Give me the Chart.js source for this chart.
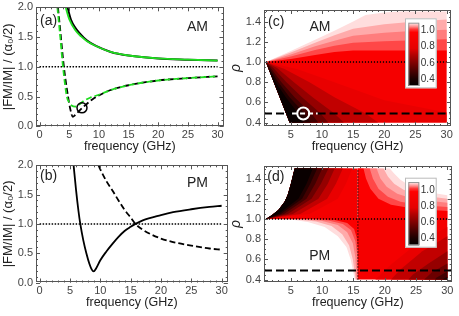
<!DOCTYPE html>
<html>
<head>
<meta charset="utf-8">
<script src="https://cdn.jsdelivr.net/npm/chart.js@4.4.0/dist/chart.umd.min.js"></script>
<style>
  html, body { margin: 0; padding: 0; background: #fff; }
  #wrap { position: relative; width: 459px; height: 316px; overflow: hidden; }
  canvas { position: absolute; }
</style>
</head>
<body>
<div id="wrap">
  <canvas id="pa" width="230" height="158" style="left:0;top:0"></canvas>
  <canvas id="pb" width="230" height="158" style="left:0;top:156px"></canvas>
  <canvas id="pc" width="230" height="158" style="left:229px;top:0"></canvas>
  <canvas id="pd" width="230" height="158" style="left:229px;top:156px"></canvas>
</div>
<script>
// ── tick labels ──────────────────────────────────────────────────────────
const X_TICKS_AB = [0, 5, 10, 15, 20, 25, 30];
const Y_TICKS_AB = [0, 0.5, 1, 1.5, 2];
const X_TICKS_CD = [5, 10, 15, 20, 25, 30];
const Y_TICKS_CD = [0.4, 0.6, 0.8, 1.0, 1.2, 1.4];
const CBAR_TICKS = [0.4, 0.6, 0.8, 1.0];
const CBAR_RANGE = [0.31, 1.10];

// ── (a) AM : |FM/IM| vs frequency ────────────────────────────────────────
const A_SOLID_F   = [4.7, 5.3, 6, 6.7, 8, 9.5, 12, 15, 20, 25, 30];
const A_SOLID     = [2.0, 1.79, 1.66, 1.57, 1.44, 1.35, 1.25, 1.19, 1.14, 1.12, 1.105];
const A_SOLID_G_F = [4.4, 5, 6, 7, 8, 9.5, 12, 15, 20, 25, 30];
const A_SOLID_G   = [2.0, 1.80, 1.62, 1.51, 1.43, 1.35, 1.25, 1.19, 1.14, 1.12, 1.105];
const A_DASH_F    = [3.1, 3.5, 4.1, 4.8, 5.2, 5.6, 6.0, 6.6, 7.2, 8, 9, 10, 12, 15, 20, 25, 30];
const A_DASH      = [2.0, 1.6, 1.0, 0.5, 0.28, 0.16, 0.19, 0.25, 0.31, 0.38, 0.46, 0.52, 0.61, 0.69, 0.77, 0.81, 0.84];
const A_DASH_G_F  = [3.0, 3.4, 3.95, 4.6, 5.0, 5.4, 6.0, 6.6, 7.5, 8.5, 10, 12, 15, 20, 25, 30];
const A_DASH_G    = [2.0, 1.6, 1.0, 0.5, 0.40, 0.35, 0.33, 0.36, 0.43, 0.48, 0.53, 0.61, 0.69, 0.77, 0.81, 0.84];
const A_MARK      = [7.15, 0.31];

// ── (b) PM ───────────────────────────────────────────────────────────────
const B_SOLID_F = [5.6, 6.0, 6.4, 6.7, 7.2, 7.7, 8.2, 8.6, 8.9, 9.3, 10, 11, 12, 13, 14, 15, 15.8, 17, 20, 22, 25, 28, 30];
const B_SOLID   = [2.0, 1.58, 1.22, 1.0, 0.72, 0.5, 0.32, 0.22, 0.19, 0.24, 0.38, 0.53, 0.66, 0.78, 0.88, 0.95, 1.0, 1.06, 1.15, 1.2, 1.25, 1.29, 1.31];
const B_DASH_F  = [9.7, 10, 11, 12, 13, 14, 15, 15.8, 17, 20, 22, 25, 28, 30];
const B_DASH    = [2.0, 1.93, 1.73, 1.57, 1.40, 1.24, 1.11, 1.0, 0.9, 0.75, 0.69, 0.63, 0.58, 0.56];

// ── density maps: domain limits ──────────────────────────────────────────
const F_LO = 1, F_HI = 30, RHO_LO = 0.4, RHO_HI = 1.5, F_PM = 15.7;
const RHO_DASH = 0.49;

// (c) AM, ρ > 1 : outer (white) edge and band edges
const C_UP_EDGE = [[1,1],[5,1.11],[8.9,1.22],[12,1.31],[15,1.40],[17,1.465],[20,1.49],[22.5,1.5]];
const C_UP_B1 = [[1,1],[5,1.095],[8.9,1.19],[12,1.265],[15,1.33],[20,1.375],[25,1.40],[30,1.42]];
const C_UP_B2 = [[1,1],[5,1.075],[8.9,1.155],[12,1.21],[15,1.26],[20,1.29],[25,1.31],[30,1.32]];
const C_UP_B3 = [[1,1],[5,1.055],[8.9,1.12],[12,1.16],[15,1.19],[20,1.205],[25,1.215],[30,1.225]];
const C_UP_B4 = [[1,1],[5,1.03],[8.9,1.07],[12,1.1],[15,1.115],[20,1.115],[25,1.115],[30,1.115]];
const C_UP_LEVELS = [1.09, 1.065, 1.045, 1.025, 0.95];

// (c) AM, ρ < 1 : left edge (1,1)-(4.8,0.4) and darkening contours
const C_LOW_FOOT = 4.8;
const C_LOW_K1 = [[1,1],[6,0.93],[12,0.8],[20,0.62],[30,0.5]];
const C_LOW_K2 = [[1,1],[4,0.93],[8,0.8],[12,0.65],[17,0.49],[19,0.4]];
const C_LOW_K3 = [[1,1],[2.8,0.94],[5.5,0.8],[8.5,0.65],[12,0.49],[13.5,0.4]];
const C_LOW_K4 = [[1,1],[2.2,0.94],[4.3,0.8],[6.8,0.65],[9.8,0.49],[11,0.4]];
const C_LOW_K5 = [[1,1],[1.8,0.94],[3.5,0.8],[5.6,0.65],[8.3,0.49],[9.4,0.4]];
const C_LOW_K6 = [[1,1],[1.55,0.94],[3.0,0.8],[4.8,0.65],[7.2,0.49],[8.2,0.4]];
const C_LOW_K7 = [[1,1],[1.4,0.94],[2.6,0.8],[4.2,0.65],[6.2,0.49],[7.0,0.4]];
const C_LOW_LEVELS = [0.9, 0.8, 0.72, 0.64, 0.56, 0.48, 0.41, 0.34];
const C_MARK = [7.0, 0.49];
const C_WHITE_DASH = [5.2, 9.3];

// (d) PM, ρ > 1, f < F_PM : lobe edge and darkening contours
const D_LOBE_EDGE = [[1,1],[2,1.04],[3,1.09],[4,1.17],[4.5,1.24],[5,1.35],[5.6,1.5]];
const D_LOBE_K1 = [[1,1],[8.0,1.05],[12.5,1.2],[13.8,1.35],[14.8,1.5]];
const D_LOBE_K2 = [[1,1],[6.5,1.05],[10.8,1.2],[12.2,1.35],[13.3,1.5]];
const D_LOBE_K3 = [[1,1],[5.3,1.05],[9.4,1.2],[10.9,1.35],[12.0,1.5]];
const D_LOBE_K4 = [[1,1],[4.5,1.05],[8.3,1.2],[9.8,1.35],[11.0,1.5]];
const D_LOBE_K5 = [[1,1],[3.9,1.05],[7.5,1.2],[8.9,1.35],[10.0,1.5]];
const D_LOBE_K6 = [[1,1],[3.4,1.05],[6.8,1.2],[8.1,1.35],[9.2,1.5]];
const D_LOBE_K7 = [[1,1],[3.0,1.05],[6.2,1.2],[7.5,1.35],[8.5,1.5]];
const D_LOBE_LEVELS = [0.9, 0.8, 0.72, 0.64, 0.56, 0.48, 0.41, 0.34];

// (d) PM, ρ > 1, f > F_PM : white edge and band edges
const D_UR_EDGE = [[20.8,1.5],[21.5,1.45],[22.5,1.39],[24,1.33],[26,1.285],[28,1.255],[30,1.235]];
const D_UR_B1 = [[19.8,1.5],[20.5,1.42],[21.5,1.35],[23,1.29],[25,1.25],[27.5,1.22],[30,1.2]];
const D_UR_B2 = [[18.7,1.5],[19.3,1.4],[20.3,1.32],[22,1.25],[24,1.21],[27,1.18],[30,1.16]];
const D_UR_B3 = [[17.6,1.5],[18.1,1.4],[19,1.3],[20.5,1.22],[22.5,1.17],[26,1.135],[30,1.12]];
const D_UR_B4 = [[16.6,1.5],[17,1.4],[17.7,1.3],[19,1.2],[21,1.14],[25,1.1],[30,1.08]];
const D_UR_LEVELS = [1.09, 1.065, 1.045, 1.025, 0.95];

// (d) PM, ρ < 1, f < F_PM : white edge and band edges
const D_LL_EDGE = [[1,1],[5,0.995],[7.7,0.97],[10.4,0.92],[12.5,0.83],[13.9,0.72],[14.6,0.59],[15.2,0.4]];
const D_LL_B1 = [[1,1],[6,0.996],[9,0.975],[11.5,0.93],[13.2,0.85],[14.3,0.74],[14.9,0.6],[15.35,0.4]];
const D_LL_B2 = [[1,1],[7,0.997],[10,0.98],[12.5,0.94],[14,0.87],[14.9,0.76],[15.3,0.62],[15.5,0.4]];
const D_LL_B3 = [[1,1],[8,0.998],[11,0.985],[13.3,0.95],[14.6,0.89],[15.3,0.78],[15.6,0.64],[15.65,0.4]];
const D_LL_B4 = [[1,1],[9,0.999],[12,0.99],[14,0.96],[15.1,0.9],[15.5,0.82],[15.7,0.7]];
const D_LL_LEVELS = [1.09, 1.065, 1.045, 1.025, 0.95];

// (d) PM, ρ < 1, f > F_PM : darkening towards (30, 0.4)
const D_LR_K1 = [[30,0.92],[25,0.75],[21,0.55],[18.5,0.4]];
const D_LR_K2 = [[30,0.83],[26,0.68],[22.5,0.5],[21,0.4]];
const D_LR_K3 = [[30,0.68],[27,0.56],[24.5,0.45],[23.8,0.4]];
const D_LR_K4 = [[30,0.56],[27.5,0.47],[26.3,0.4]];
const D_LR_K5 = [[30,0.48],[28.3,0.42],[28,0.4]];
const D_LR_K6 = [[30,0.43],[29.2,0.4]];
const D_LR_LEVELS = [0.9, 0.8, 0.72, 0.64, 0.56, 0.48, 0.41];

// ── styling ──────────────────────────────────────────────────────────────
const FONT = 'Liberation Sans, Arial, sans-serif';
const TICK_COLOR = '#444';
const TEXT_COLOR = '#222';
const FRAME_COLOR = '#555';
const GREEN = '#1fdc1f';
const DASH_MAP = [8, 4];
const CMAP_V = [0.31, 0.40, 0.50, 0.60, 0.70, 0.78, 0.98, 1.02, 1.05, 1.08, 1.10];
const CMAP_C = ['#000000','#1c0000','#4c0000','#800000','#b40000','#e60000','#ff0000','#ff3a3a','#ff8a8a','#ffcaca','#fff0f0'];

function hexRgb(h) { return [1, 3, 5].map(i => parseInt(h.slice(i, i + 2), 16)); }
function colorAt(v) {
  if (v <= CMAP_V[0]) return CMAP_C[0];
  for (let i = 1; i < CMAP_V.length; i++) {
    if (v <= CMAP_V[i]) {
      const t = (v - CMAP_V[i - 1]) / (CMAP_V[i] - CMAP_V[i - 1]);
      const a = hexRgb(CMAP_C[i - 1]), b = hexRgb(CMAP_C[i]);
      return `rgb(${a.map((c, k) => Math.round(c + (b[k] - c) * t)).join(',')})`;
    }
  }
  return CMAP_C[CMAP_C.length - 1];
}

const pts = arr => arr.map(([x, y]) => ({ x, y }));
function band(points, level) {
  return { data: pts(points), showLine: true, fill: 'shape', backgroundColor: colorAt(level),
    borderColor: 'rgba(0,0,0,0)', borderWidth: 0, pointRadius: 0, tension: 0 };
}
function curve(fs, vs, color, dash, width) {
  return { data: fs.map((x, i) => ({ x, y: vs[i] })), showLine: true, fill: false,
    borderColor: color, borderWidth: width, borderDash: dash, pointRadius: 0,
    tension: 0.4, cubicInterpolationMode: 'monotone' };
}
function rule(points, color, dash, width) {
  return { data: pts(points), showLine: true, fill: false, borderColor: color,
    borderWidth: width, borderDash: dash, pointRadius: 0, tension: 0 };
}
function ring(p, color, r, w) {
  return { data: [{ x: p[0], y: p[1] }], showLine: false, pointRadius: r, pointBorderWidth: w,
    pointBorderColor: color, pointBackgroundColor: 'rgba(0,0,0,0)', pointStyle: 'circle' };
}
function steps(from, to, step) {
  const out = [], n = Math.round((to - from) / step);
  for (let i = 0; i <= n; i++) out.push(+(from + i * step).toFixed(4));
  return out;
}

function drawColorbar(ctx, cb) {
  const [bx, by, bw, bh] = cb.box, [sx, sy, sw, sh] = cb.strip;
  const [lo, hi] = CBAR_RANGE;
  ctx.fillStyle = '#fff'; ctx.fillRect(bx, by, bw, bh);
  ctx.strokeStyle = '#bbb'; ctx.lineWidth = 1; ctx.strokeRect(bx + 0.5, by + 0.5, bw - 1, bh - 1);
  const g = ctx.createLinearGradient(0, sy + sh, 0, sy);
  CMAP_V.forEach((v, i) => g.addColorStop((v - lo) / (hi - lo), CMAP_C[i]));
  ctx.fillStyle = g; ctx.fillRect(sx, sy, sw, sh);
  ctx.strokeStyle = '#999'; ctx.strokeRect(sx + 0.5, sy + 0.5, sw - 1, sh - 1);
  ctx.fillStyle = '#333'; ctx.font = `10px ${FONT}`;
  ctx.textAlign = 'left'; ctx.textBaseline = 'middle';
  CBAR_TICKS.forEach(v => {
    const y = sy + sh - (v - lo) / (hi - lo) * sh;
    ctx.fillText(v.toFixed(1), sx + sw + 1.5, y);
  });
}

function decor(p) {
  return {
    id: 'decor',
    afterDatasetsDraw(chart) {
      const { ctx, chartArea: a } = chart;
      const sx = chart.scales.x, sy = chart.scales.y;
      ctx.save();
      ctx.strokeStyle = FRAME_COLOR; ctx.lineWidth = 1;
      ctx.beginPath();
      const xt = (vals, len) => vals.forEach(v => {
        const q = Math.round(sx.getPixelForValue(v)) + 0.5;
        ctx.moveTo(q, a.bottom); ctx.lineTo(q, a.bottom - len);
        ctx.moveTo(q, a.top); ctx.lineTo(q, a.top + len);
      });
      const yt = (vals, len) => vals.forEach(v => {
        const q = Math.round(sy.getPixelForValue(v)) + 0.5;
        ctx.moveTo(a.left, q); ctx.lineTo(a.left + len, q);
        ctx.moveTo(a.right, q); ctx.lineTo(a.right - len, q);
      });
      xt(p.xMinor, 2); xt(p.xTicks, 4); yt(p.yMinor, 2); yt(p.yTicks, 4);
      ctx.stroke();
      ctx.strokeRect(Math.round(a.left) + 0.5, Math.round(a.top) + 0.5,
        Math.round(a.right - a.left) - 1, Math.round(a.bottom - a.top) - 1);
      if (p.colorbar) drawColorbar(ctx, p.colorbar);
      ctx.fillStyle = TEXT_COLOR; ctx.textBaseline = 'middle';
      p.texts.forEach(t => {
        ctx.font = `14px ${FONT}`; ctx.textAlign = t[3];
        ctx.fillText(t[0], t[1], t[2]);
      });
      ctx.restore();
    }
  };
}

function makePanel(id, p) {
  const n = p.datasets.length;
  return new Chart(document.getElementById(id), {
    type: 'scatter',
    data: { datasets: p.datasets.map((d, i) => ({ ...d, order: n - i })) },
    options: {
      responsive: false, animation: false, events: [],
      layout: { padding: { left: 0, top: p.area[1], right: 230 - p.area[2], bottom: 0 } },
      plugins: { legend: { display: false }, tooltip: { enabled: false }, colors: { enabled: false } },
      scales: {
        x: {
          type: 'linear', min: p.xRange[0], max: p.xRange[1],
          afterBuildTicks: s => { s.ticks = p.xTicks.map(value => ({ value })); },
          afterFit: s => { s.height = 158 - p.area[3]; s.paddingLeft = 0; s.paddingRight = 0; },
          grid: { display: false, drawTicks: false, tickLength: 0 }, border: { display: false },
          ticks: { color: TICK_COLOR, font: { family: FONT, size: 11 }, padding: 2,
            maxRotation: 0, minRotation: 0, autoSkip: false, callback: v => String(v) },
          title: { display: true, text: 'frequency (GHz)', color: TEXT_COLOR,
            font: { family: FONT, size: 12.5 }, padding: { top: 0, bottom: 3.5 } }
        },
        y: {
          type: 'linear', min: p.yRange[0], max: p.yRange[1],
          afterBuildTicks: s => { s.ticks = p.yTicks.map(value => ({ value })); },
          afterFit: s => { s.width = p.area[0]; s.paddingTop = 0; s.paddingBottom = 0; },
          grid: { display: false, drawTicks: false, tickLength: 0 }, border: { display: false },
          ticks: { color: TICK_COLOR, font: { family: FONT, size: 11 }, padding: 3,
            autoSkip: false, callback: v => v.toFixed(1) },
          title: { display: true, text: p.yTitle, color: TEXT_COLOR,
            font: { family: FONT, size: p.yTitleSize, style: p.yItalic ? 'italic' : 'normal' },
            padding: { top: p.yTitlePad, bottom: 0 } }
        }
      }
    },
    plugins: [decor(p)]
  });
}

const Y_TITLE_AB = '|FM/IM| / (α\u2080/2)';

// ── (a) ──
makePanel('pa', {
  area: [36, 7.3, 227.7, 126.3], xRange: [-0.6, 31], yRange: [0, 2],
  xTicks: X_TICKS_AB, yTicks: Y_TICKS_AB, xMinor: steps(0, 30, 1), yMinor: steps(0, 2, 0.1),
  yTitle: Y_TITLE_AB, yTitleSize: 13, yTitlePad: 0.5,
  texts: [['(a)', 40, 21.5, 'left'], ['AM', 197.5, 27.5, 'center']],
  datasets: [
    rule([[0, 1], [30, 1]], '#000', [1.5, 1.5], 1.5),
    curve(A_SOLID_F, A_SOLID, '#000', [], 2),
    curve(A_SOLID_G_F, A_SOLID_G, GREEN, [], 1.8),
    curve(A_DASH_F, A_DASH, '#000', [6, 3], 1.8),
    curve(A_DASH_G_F, A_DASH_G, GREEN, [6, 3], 1.8),
    ring(A_MARK, '#000', 5, 1.5)
  ]
});

// ── (b) ──
makePanel('pb', {
  area: [36, 9.3, 227.7, 126.5], xRange: [-0.6, 31], yRange: [0, 2],
  xTicks: X_TICKS_AB, yTicks: Y_TICKS_AB, xMinor: steps(0, 30, 1), yMinor: steps(0, 2, 0.1),
  yTitle: Y_TITLE_AB, yTitleSize: 13, yTitlePad: 0.5,
  texts: [['(b)', 40, 20, 'left'], ['PM', 197.5, 27.5, 'center']],
  datasets: [
    rule([[0, 1], [30, 1]], '#000', [1.5, 1.5], 1.5),
    curve(B_SOLID_F, B_SOLID, '#000', [], 1.8),
    curve(B_DASH_F, B_DASH, '#000', [6, 3], 1.8)
  ]
});

// ── (c) ──
const cLowPoly = k => {
  const last = k[k.length - 1];
  return k.concat(last[1] > RHO_LO ? [[F_HI, RHO_LO]] : [], [[C_LOW_FOOT, RHO_LO]]);
};
makePanel('pc', {
  area: [35, 10, 222.7, 126], xRange: [0.7, 30.7], yRange: [0.366, 1.515],
  xTicks: X_TICKS_CD, yTicks: Y_TICKS_CD, xMinor: steps(1, 30, 1), yMinor: steps(0.4, 1.5, 0.05),
  yTitle: 'ρ', yTitleSize: 14, yItalic: true, yTitlePad: -1,
  texts: [['(c)', 39, 22, 'left'], ['AM', 91, 27, 'center']],
  colorbar: { box: [176, 18.3, 31.7, 70], strip: [179.3, 22.7, 11, 63.3] },
  datasets: [
    band(C_UP_EDGE.concat([[F_HI, RHO_HI], [F_HI, 1]]), C_UP_LEVELS[0]),
    ...[C_UP_B1, C_UP_B2, C_UP_B3, C_UP_B4].map((b, i) => band(b.concat([[F_HI, 1]]), C_UP_LEVELS[i + 1])),
    band([[F_LO, 1], [F_HI, 1], [F_HI, RHO_LO], [C_LOW_FOOT, RHO_LO]], C_LOW_LEVELS[0]),
    ...[C_LOW_K1, C_LOW_K2, C_LOW_K3, C_LOW_K4, C_LOW_K5, C_LOW_K6, C_LOW_K7]
      .map((k, i) => band(cLowPoly(k), C_LOW_LEVELS[i + 1])),
    rule([[F_LO, 1], [F_HI, 1]], '#000', [1.2, 1.8], 1.3),
    rule([[0.7, RHO_DASH], [C_WHITE_DASH[0], RHO_DASH]], '#000', DASH_MAP, 2),
    rule([[C_WHITE_DASH[1], RHO_DASH], [30.7, RHO_DASH]], '#000', DASH_MAP, 2),
    rule([[C_WHITE_DASH[0], RHO_DASH], [C_WHITE_DASH[1], RHO_DASH]], '#fff', [5, 3], 2),
    ring(C_MARK, '#fff', 6, 2)
  ]
});

// ── (d) ──
const lobeRev = D_LOBE_EDGE.slice().reverse();
makePanel('pd', {
  area: [35, 10, 222.7, 126], xRange: [0.7, 30.7], yRange: [0.376, 1.525],
  xTicks: X_TICKS_CD, yTicks: Y_TICKS_CD, xMinor: steps(1, 30, 1), yMinor: steps(0.4, 1.5, 0.05),
  yTitle: 'ρ', yTitleSize: 14, yItalic: true, yTitlePad: -1,
  texts: [['(d)', 38.3, 20.7, 'left'], ['PM', 90.7, 100, 'center']],
  colorbar: { box: [176, 21.7, 31.7, 70], strip: [179.3, 26, 11, 63.3] },
  datasets: [
    band(D_LOBE_EDGE.concat([[F_PM, RHO_HI], [F_PM, 1]]), D_LOBE_LEVELS[0]),
    ...[D_LOBE_K1, D_LOBE_K2, D_LOBE_K3, D_LOBE_K4, D_LOBE_K5, D_LOBE_K6, D_LOBE_K7]
      .map((k, i) => band(k.concat(lobeRev), D_LOBE_LEVELS[i + 1])),
    ...[D_UR_EDGE, D_UR_B1, D_UR_B2, D_UR_B3, D_UR_B4]
      .map((b, i) => band([[F_PM, 1], [F_PM, RHO_HI]].concat(b, [[F_HI, 1]]), D_UR_LEVELS[i])),
    ...[D_LL_EDGE, D_LL_B1, D_LL_B2, D_LL_B3, D_LL_B4]
      .map((b, i) => band(b.concat([[F_PM, RHO_LO], [F_PM, 1]]), D_LL_LEVELS[i])),
    band([[F_PM, 1], [F_HI, 1], [F_HI, RHO_LO], [F_PM, RHO_LO]], D_LR_LEVELS[0]),
    ...[D_LR_K1, D_LR_K2, D_LR_K3, D_LR_K4, D_LR_K5, D_LR_K6]
      .map((k, i) => band(k.concat([[F_HI, RHO_LO]]), D_LR_LEVELS[i + 1])),
    rule([[F_LO, 1], [F_HI, 1]], '#000', [1.2, 1.8], 1.3),
    rule([[F_PM, RHO_LO], [F_PM, RHO_HI]], '#000', [1.2, 1.8], 1.3),
    rule([[0.7, RHO_DASH], [30.7, RHO_DASH]], '#000', DASH_MAP, 2)
  ]
});
</script>
</body>
</html>
